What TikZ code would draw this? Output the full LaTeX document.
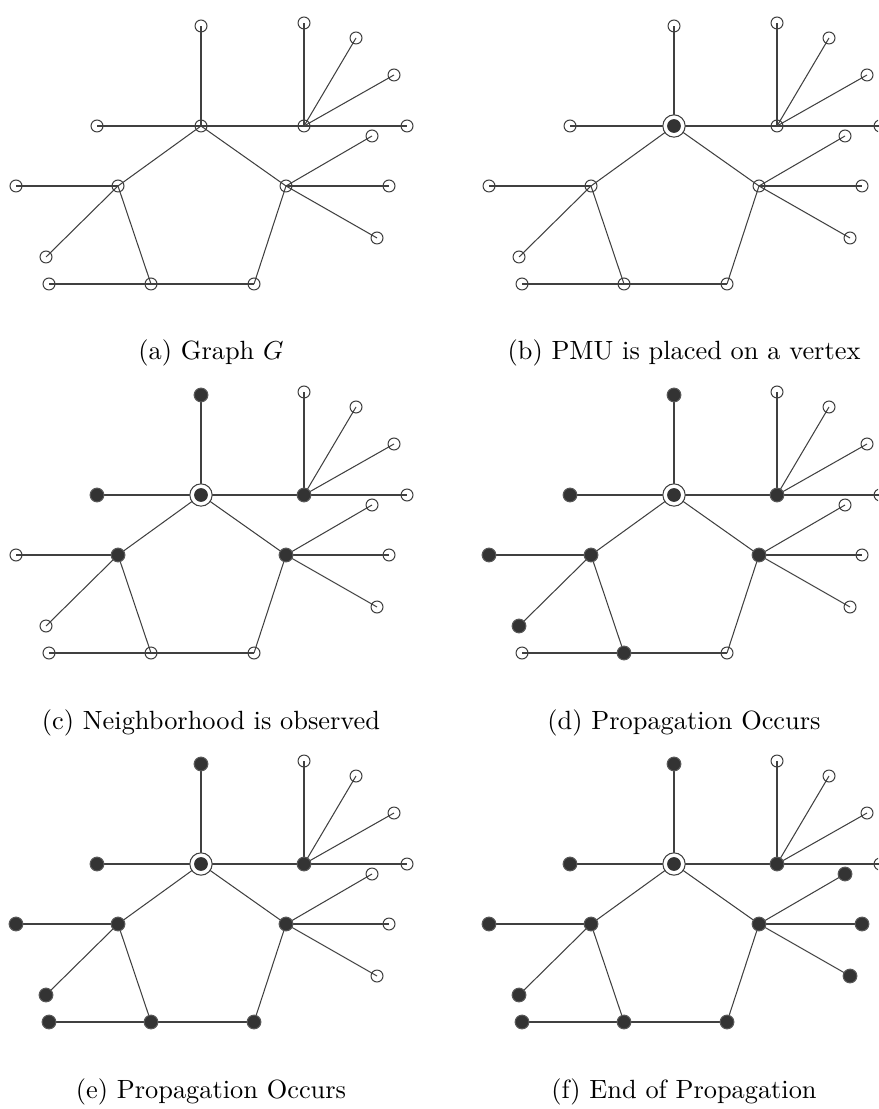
\documentclass[tikz,border=0pt]{standalone}
\usepackage{tikz}
\usepackage{xstring}
\usetikzlibrary{backgrounds}
\tikzset{
    vtx/.style={
        circle, draw=black!75, line width=0.4pt,
        inner sep=0pt, minimum size=4.6pt,
    },
    obs/.style={
        vtx, fill=black!80, draw=black!65, minimum size=5.3pt,
    },
    pmu/.style={
        circle, draw=black!75, fill=white, line width=0.4pt,
        inner sep=0pt, minimum size=8.6pt,
        path picture={\fill[black!80] (path picture bounding box.center) circle (2.65pt);},
    },
    edge/.style={
        draw=black!75, line width=0.4pt,
    },
    vstate/.code={\IfSubStr{,\obslist,}{,#1,}{\pgfkeysalso{/tikz/obs}}{\pgfkeysalso{/tikz/vtx}}},
    hubstate/.code={\IfSubStr{,\obslist,}{,h,}{\pgfkeysalso{/tikz/pmu}}{\pgfkeysalso{/tikz/vtx}}},
    caption/.style={anchor=base, font=\fontsize{10.15}{12}\selectfont},
}
% #1 prefix, #2/#3 shift, #4 observed vertices, #5 caption
\newcommand{\graphpanel}[5]{%
    \def\obslist{#4}%
    \begin{scope}[shift={(#2,#3)}]
        \node[hubstate] (#1-h) at (201,126) {};
        \node[vstate=t] (#1-t) at (201,26) {};
        \node[vstate=hl] (#1-hl) at (97,126) {};
        \node[vstate=rh] (#1-rh) at (304,126) {};
        \node[vstate=r1] (#1-r1) at (304,23) {};
        \node[vstate=r2] (#1-r2) at (356,38) {};
        \node[vstate=r3] (#1-r3) at (394,75) {};
        \node[vstate=r4] (#1-r4) at (407,126) {};
        \node[vstate=p1] (#1-p1) at (118,186) {};
        \node[vstate=p4] (#1-p4) at (286,186) {};
        \node[vstate=p2] (#1-p2) at (151,284) {};
        \node[vstate=p3] (#1-p3) at (254,284) {};
        \node[vstate=l1] (#1-l1) at (16,186) {};
        \node[vstate=l2] (#1-l2) at (46,257) {};
        \node[vstate=l3] (#1-l3) at (49,284) {};
        \node[vstate=q1] (#1-q1) at (372,136) {};
        \node[vstate=q2] (#1-q2) at (389,186) {};
        \node[vstate=q3] (#1-q3) at (377,238) {};
        \begin{pgfonlayer}{background}
            \foreach \u/\v in {h/t,h/hl,h/rh,h/p1,h/p4,rh/r1,rh/r2,rh/r3,rh/r4,
                    p1/l1,p1/l2,p1/p2,p2/l3,p2/p3,p3/p4,p4/q1,p4/q2,p4/q3}
                \draw[edge] (#1-\u.center) -- (#1-\v.center);
        \end{pgfonlayer}
        \node[caption] (#1-cap) at (211,360) {#5};
    \end{scope}}

\begin{document}
\begin{tikzpicture}[x=0.385pt,y=-0.385pt]
    \useasboundingbox (0,0) rectangle (878,1109);
    \clip (0,0) rectangle (878,1109);
    \graphpanel{a}{0}{0}{}{(a) Graph $G$}
    \graphpanel{b}{473}{0}{h}{(b) PMU is placed on a vertex}
    \graphpanel{c}{0}{369}{h,t,hl,rh,p1,p4}{(c) Neighborhood is observed}
    \graphpanel{d}{473}{369}{h,t,hl,rh,p1,p4,l1,l2,p2}{(d) Propagation Occurs}
    \graphpanel{e}{0}{738}{h,t,hl,rh,p1,p4,l1,l2,p2,l3,p3}{(e) Propagation Occurs}
    \graphpanel{f}{473}{738}{h,t,hl,rh,p1,p4,l1,l2,p2,l3,p3,q1,q2,q3}{(f) End of Propagation}
\end{tikzpicture}
\end{document}
